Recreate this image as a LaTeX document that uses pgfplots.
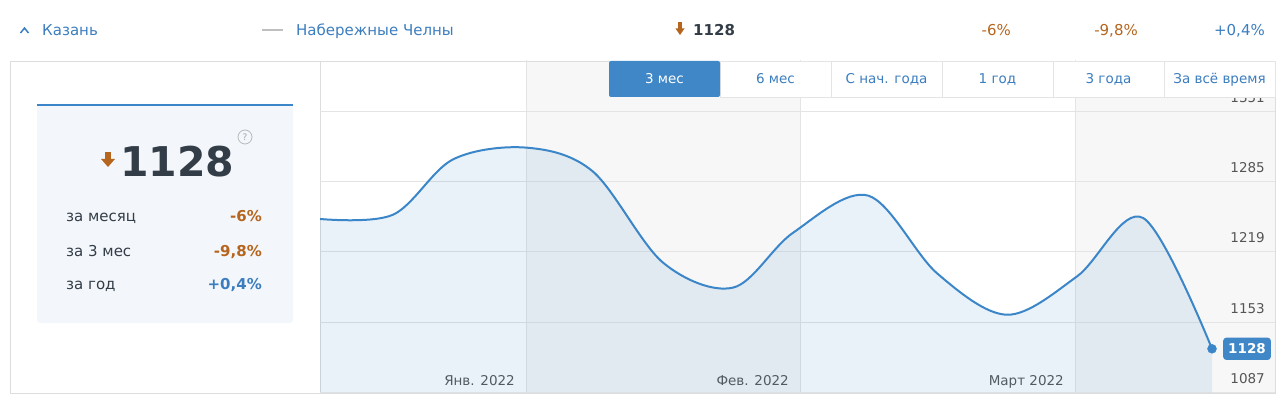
\documentclass[border=0pt]{standalone}
\usepackage{fontspec}
\setmainfont{DejaVu Sans}
\usepackage{pgfplots}
\usepackage{pgfplotstable}
\pgfplotsset{compat=1.18}
\definecolor{lineblue}{HTML}{3B86C8}
\definecolor{textblue}{HTML}{3B7DBF}
\definecolor{tabblue}{HTML}{3F87C7}
\definecolor{orng}{HTML}{B5651D}
\definecolor{dark}{HTML}{333D47}
\definecolor{labgray}{HTML}{555555}
\definecolor{gridgray}{HTML}{E4E4E4}
\definecolor{band}{HTML}{F7F7F7}
\definecolor{panelfill}{HTML}{F3F7FB}
\definecolor{framegray}{HTML}{DDDDDD}
\newcommand{\fs}[1]{\fontsize{#1}{#1}\selectfont}
\pgfplotstableread{
x y
320 1250
393 1254
453 1306
527 1317
593 1294.5
663 1209
733 1185.5
793 1237
868 1272
937 1199
1007 1160
1077 1196
1143 1251
1212 1128
}\data
\begin{document}
\begin{tikzpicture}[x=1pt,y=1pt,every node/.style={inner sep=0pt}]
\path[use as bounding box] (0,0) rectangle (1280,402);
% bands
\fill[band] (526,9) rectangle (800,341);
\fill[band] (1075,9) rectangle (1275,341);
% frame
\draw[framegray] (10,9) rectangle (1275,341);
\draw[framegray] (320,9) -- (320,341);
\begin{axis}[
  at={(320,9)}, anchor=south west, scale only axis,
  width=955pt, height=332pt,
  xmin=320, xmax=1275, ymin=1087, ymax=1399,
  axis line style={draw=none},
  major tick length=0pt,
  xtick={526,800,1075}, xticklabels={Янв. 2022, Фев. 2022, Март 2022},
  ytick={1087,1153,1219,1285,1351}, yticklabels={1087,1153,1219,1285,1351},
  yticklabel pos=right,
  xmajorgrids, ymajorgrids,
  grid style={draw=gridgray, line width=1pt},
  xticklabel style={anchor=base east, inner sep=0pt, xshift=-11pt, yshift=7pt, font=\fs{13.5}, text=labgray},
  yticklabel style={anchor=base east, inner sep=0pt, xshift=-10pt, yshift=9pt, font=\fs{13.5}, text=labgray},
]
\addplot[draw=none, fill=lineblue, fill opacity=0.11, smooth, tension=0.55] table[x=x,y=y] {\data} \closedcycle;
\addplot[draw=lineblue, line width=2pt, smooth, tension=0.55] table[x=x,y=y] {\data};
\addplot[only marks, mark=*, mark size=4.5pt, color=lineblue] coordinates {(1212,1128)};
\node[fill=tabblue, rounded corners=3pt, text=white, inner xsep=5pt, inner ysep=6pt, font=\fs{13.5}\bfseries] at (axis cs:1247,1128) {1128};
\end{axis}
% tabs
\foreach \a/\b/\t in {720/831/6 мес, 831/942/С нач. года, 942/1053/1 год, 1053/1164/3 года, 1164/1275/За всё время}{
  \filldraw[fill=white, draw=gridgray] (\a,305) rectangle (\b,341);
  \node[anchor=base, text=textblue] at ({(\a+\b)/2},318) {\fs{13.5}\t};
}
\fill[tabblue, rounded corners=2pt] (609,305) rectangle (720,341);
\node[anchor=base, text=white] at (664.5,318) {\fs{13.5}3 мес};
% top row
\draw[textblue, line width=1.5pt] (20.5,369) -- (24.5,374) -- (28.5,369);
\node[anchor=base west, text=textblue] at (42,366) {\fs{15}Казань};
\draw[gray!50, line width=1.2pt] (262,372) -- (283,372);
\node[anchor=base west, text=textblue] at (296,366) {\fs{15}Набережные Челны};
\fill[orng] (678,380) rectangle (682,373);
\fill[orng] (675.5,373.5) -- (684.5,373.5) -- (680,367) -- cycle;
\node[anchor=base west, text=dark] at (693,366) {\fs{15}\bfseries 1128};
\node[anchor=base east, text=orng] at (1011,366) {\fs{15}-6\%};
\node[anchor=base east, text=orng] at (1138,366) {\fs{15}-9,8\%};
\node[anchor=base east, text=textblue] at (1265,366) {\fs{15}+0,4\%};
% panel
\fill[panelfill, rounded corners=3pt] (37,79) rectangle (293,298);
\draw[lineblue, line width=2pt] (37,297) -- (293,297);
\fill[orng] (105,250) rectangle (111,242);
\fill[orng] (101,243) -- (115,243) -- (108,235) -- cycle;
\node[anchor=base west, text=dark] at (120,225) {\fs{41}\bfseries 1128};
\draw[gray!55, line width=0.8pt] (245,265) circle (7);
\node[text=gray!70] at (245,265) {\fs{9}?};
\node[anchor=base west, text=dark] at (66,180) {\fs{15}за месяц};
\node[anchor=base west, text=dark] at (66,145.5) {\fs{15}за 3 мес};
\node[anchor=base west, text=dark] at (66,112) {\fs{15}за год};
\node[anchor=base east, text=orng] at (262,180) {\fs{15}\bfseries -6\%};
\node[anchor=base east, text=orng] at (262,145.5) {\fs{15}\bfseries -9,8\%};
\node[anchor=base east, text=textblue] at (262,112) {\fs{15}\bfseries +0,4\%};
\end{tikzpicture}
\end{document}
